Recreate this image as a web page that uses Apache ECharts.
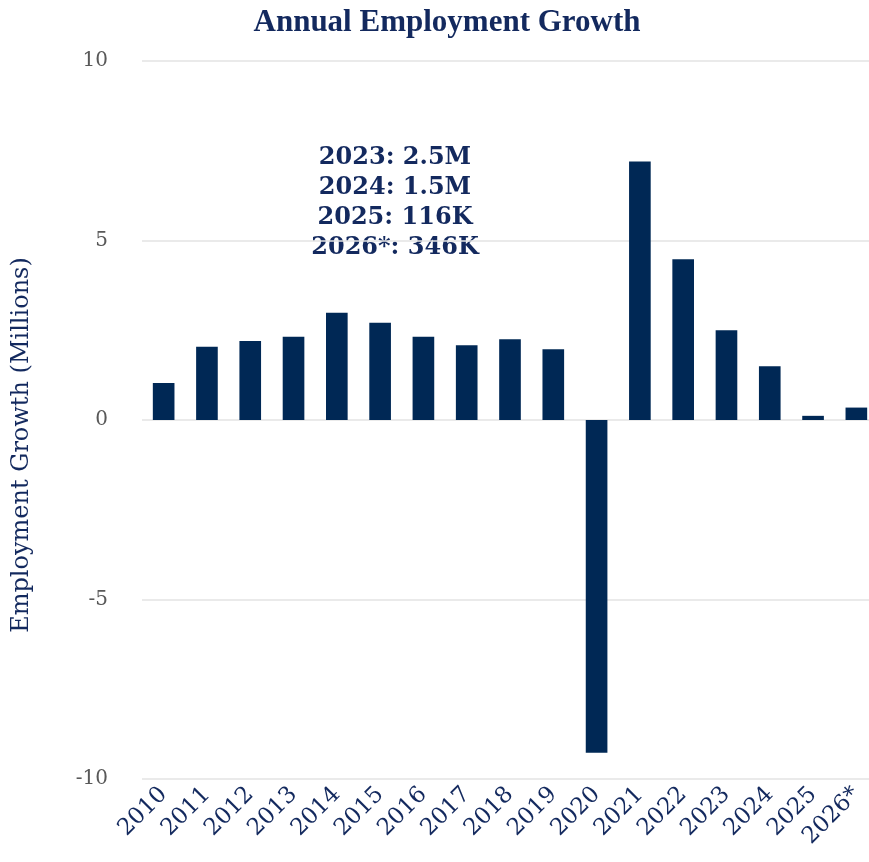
<!DOCTYPE html>
<html>
<head>
<meta charset="utf-8">
<script src="https://cdn.jsdelivr.net/npm/echarts@6/dist/echarts.min.js"></script>
<style>
  html, body { margin: 0; padding: 0; background: #ffffff; overflow: hidden; }
  #chart { width: 878px; height: 862px; }
</style>
</head>
<body>
<div id="chart"></div>
<script>
// Annual change in total employment, millions of jobs
const years = ['2010', '2011', '2012', '2013', '2014', '2015', '2016', '2017', '2018',
               '2019', '2020', '2021', '2022', '2023', '2024', '2025', '2026*'];
const growth = [1.03, 2.04, 2.2, 2.32, 2.99, 2.71, 2.32, 2.08, 2.25,
                1.97, -9.27, 7.2, 4.48, 2.5, 1.5, 0.116, 0.346];
const yTicks = [-10, -5, 0, 5, 10];
const calloutLines = ['2023: 2.5M', '2024: 1.5M', '2025: 116K', '2026*: 346K'];

const NAVY = '#002855';
const TEXT_NAVY = '#13295e';
const serif = '"DejaVu Serif", "Liberation Serif", serif';

const chart = echarts.init(document.getElementById('chart'));

chart.setOption({
  backgroundColor: '#ffffff',
  animation: false,
  title: {
    text: 'Annual Employment Growth',
    left: 442,
    textAlign: 'center',
    top: 2,
    textStyle: {
      color: TEXT_NAVY,
      fontFamily: '"Liberation Serif", serif',
      fontWeight: 'bold',
      fontSize: 31
    }
  },
  grid: { left: 142, right: 0, top: 61, bottom: 83, containLabel: false },
  xAxis: {
    type: 'category',
    data: years,
    axisLine: { show: false },
    axisTick: { show: false },
    axisLabel: {
      interval: 0,
      rotate: 45,
      margin: 12,
      color: TEXT_NAVY,
      fontFamily: serif,
      fontSize: 23
    }
  },
  yAxis: {
    type: 'value',
    min: yTicks[0],
    max: yTicks[yTicks.length - 1],
    interval: 5,
    axisLine: { show: false },
    axisTick: { show: false },
    axisLabel: {
      margin: 34,
      color: '#595959',
      fontFamily: serif,
      fontSize: 20
    },
    splitLine: { lineStyle: { color: '#e3e3e3', width: 1.5 } }
  },
  series: [{
    type: 'bar',
    data: growth,
    barWidth: '50%',
    itemStyle: { color: NAVY }
  }],
  graphic: [
    {
      type: 'text',
      x: 22,
      y: 445,
      rotation: Math.PI / 2,
      style: {
        text: 'Employment Growth (Millions)',
        align: 'center',
        verticalAlign: 'middle',
        fill: TEXT_NAVY,
        font: '24px ' + serif
      }
    }
  ].concat(calloutLines.map((line, i) => ({
    type: 'text',
    x: 395,
    y: 158 + i * 30,
    style: {
      text: line,
      align: 'center',
      verticalAlign: 'middle',
      fill: TEXT_NAVY,
      font: 'bold 24px ' + serif
    }
  })))
});
</script>
</body>
</html>
